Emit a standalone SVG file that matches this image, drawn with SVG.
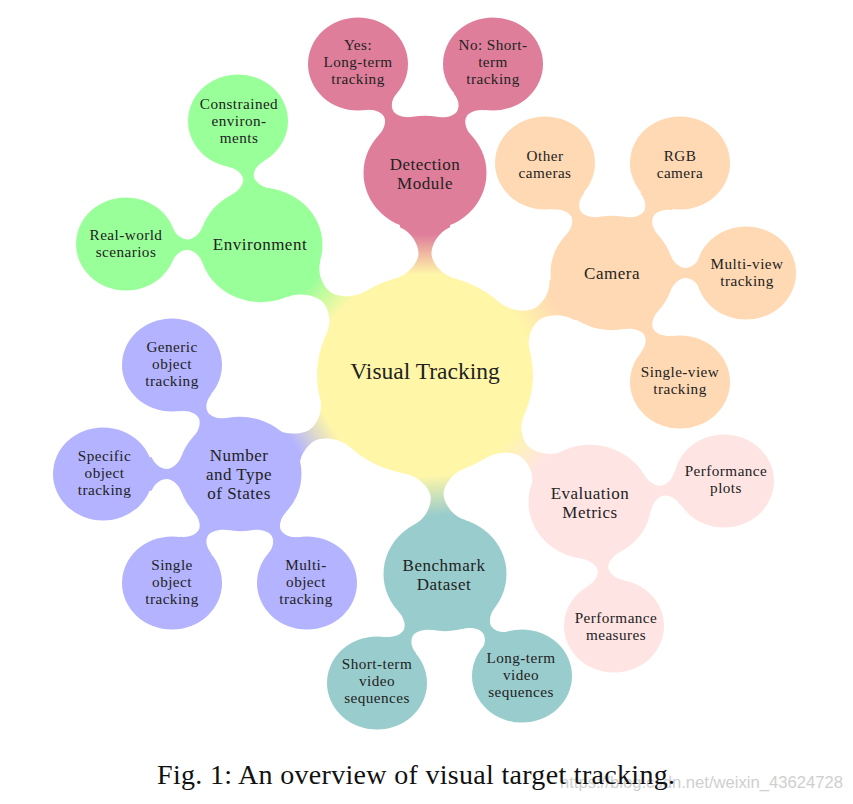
<svg xmlns="http://www.w3.org/2000/svg" width="853" height="804" viewBox="0 0 853 804">
<style>
  text { font-family: "Liberation Serif", "Times New Roman", serif; fill: #222; text-anchor: middle; }
  .t0 { font-size: 23.5px; }
  .t1 { font-size: 17px; letter-spacing: 0.5px; }
  .t2 { font-size: 15.2px; letter-spacing: 0.45px; }
  .cap { font-size: 28px; text-anchor: start; fill: #111; }
  .wm { font-family: "Liberation Sans", Arial, sans-serif; font-size: 16px; fill: #cfcfcf; text-anchor: start; }
  .yel { fill: #FFF6A8; }
  .det { fill: #DF7E9B; }
  .cam { fill: #FFD9B3; }
  .env { fill: #99FF99; }
  .num { fill: #B3B3FF; }
  .ben { fill: #99CCCC; }
  .eva { fill: #FFE4E4; }
</style>
<defs>
  <path id="n1" d="M 80,-30 L 103.75,-30 C 107.9,-15.6 122,-6.5 130.75,-6.5 C 139.5,-6.5 153.5,-13.1 158.8,-25 L 175,-25 L 175,25 L 158.8,25 C 153.5,13.1 139.5,6.5 130.75,6.5 C 122,6.5 107.9,15.6 103.75,30 L 80,30 Z"/>
  <path id="n2" d="M 45,-20 L 58.16,-20 C 61.1,-11.5 68,-5.5 73.25,-5.5 C 78.5,-5.5 85.1,-9.6 88.35,-18 L 100,-18 L 100,18 L 88.35,18 C 85.1,9.6 78.5,5.5 73.25,5.5 C 68,5.5 61.1,11.5 58.16,20 L 45,20 Z"/>
  <linearGradient id="gDet" x1="0" y1="0" x2="1" y2="0"><stop offset="0.3" stop-color="#FFF6A8"/><stop offset="0.75" stop-color="#DF7E9B"/></linearGradient>
  <linearGradient id="gCam" x1="0" y1="0" x2="1" y2="0"><stop offset="0.3" stop-color="#FFF6A8"/><stop offset="0.75" stop-color="#FFD9B3"/></linearGradient>
  <linearGradient id="gEnv" x1="0" y1="0" x2="1" y2="0"><stop offset="0.3" stop-color="#FFF6A8"/><stop offset="0.75" stop-color="#99FF99"/></linearGradient>
  <linearGradient id="gNum" x1="0" y1="0" x2="1" y2="0"><stop offset="0.3" stop-color="#FFF6A8"/><stop offset="0.75" stop-color="#B3B3FF"/></linearGradient>
  <linearGradient id="gBen" x1="0" y1="0" x2="1" y2="0"><stop offset="0.3" stop-color="#FFF6A8"/><stop offset="0.75" stop-color="#99CCCC"/></linearGradient>
  <linearGradient id="gEva" x1="0" y1="0" x2="1" y2="0"><stop offset="0.3" stop-color="#FFF6A8"/><stop offset="0.75" stop-color="#FFE4E4"/></linearGradient>
</defs>
<rect width="853" height="804" fill="#ffffff"/>

<g id="connectors" transform="scale(1,0.93)">
  <use href="#n1" fill="url(#gDet)" transform="translate(425,403.23) rotate(-90)"/>
  <use href="#n1" fill="url(#gCam)" transform="translate(425,403.23) rotate(-30.4)"/>
  <use href="#n1" fill="url(#gEnv)" transform="translate(425,403.23) rotate(-139.55)"/>
  <use href="#n1" fill="url(#gNum)" transform="translate(425,403.23) rotate(150.1)"/>
  <use href="#n1" fill="url(#gBen)" transform="translate(425,403.23) rotate(84.66)"/>
  <use href="#n1" fill="url(#gEva)" transform="translate(425,403.23) rotate(39.6)"/>

  <use href="#n2" class="det" transform="translate(425,186.02) rotate(-119.75)"/>
  <use href="#n2" class="det" transform="translate(425,186.02) rotate(-59.9)"/>

  <use href="#n2" class="cam" transform="translate(612,293.55) rotate(-119.5)"/>
  <use href="#n2" class="cam" transform="translate(612,293.55) rotate(-60.1)"/>
  <use href="#n2" class="cam" transform="translate(612,293.55) rotate(0)"/>
  <use href="#n2" class="cam" transform="translate(612,293.55) rotate(59.9)"/>

  <use href="#n2" class="env" transform="translate(261,263.44) rotate(-99.8)"/>
  <use href="#n2" class="env" transform="translate(261,263.44) rotate(-179.6)"/>

  <use href="#n2" class="num" transform="translate(240,509.68) rotate(-120.1)"/>
  <use href="#n2" class="num" transform="translate(240,509.68) rotate(180)"/>
  <use href="#n2" class="num" transform="translate(240,509.68) rotate(120.1)"/>
  <use href="#n2" class="num" transform="translate(240,509.68) rotate(60.25)"/>

  <use href="#n2" class="ben" transform="translate(445,617.2) rotate(120.1)"/>
  <use href="#n2" class="ben" transform="translate(445,617.2) rotate(54.9)"/>

  <use href="#n2" class="eva" transform="translate(590,539.78) rotate(79.8)"/>
  <use href="#n2" class="eva" transform="translate(590,539.78) rotate(-9.6)"/>
</g>

<g id="visual-tracking">
  <ellipse class="yel" cx="425" cy="375" rx="108" ry="100.4"/>
  <text class="t0" x="425" y="379">Visual Tracking</text>
</g>

<g id="detection-module">
  <ellipse class="det" cx="425" cy="173" rx="61.5" ry="57.2"/>
  <text class="t1" x="425" y="169.75">Detection</text>
  <text class="t1" x="425" y="188.75">Module</text>
</g>
<g id="yes-long-term">
  <ellipse class="det" cx="358" cy="64" rx="50" ry="46.5"/>
  <text class="t2" x="358" y="50">Yes:</text>
  <text class="t2" x="358" y="67">Long-term</text>
  <text class="t2" x="358" y="84">tracking</text>
</g>
<g id="no-short-term">
  <ellipse class="det" cx="493" cy="64" rx="50" ry="46.5"/>
  <text class="t2" x="493" y="50">No: Short-</text>
  <text class="t2" x="493" y="67">term</text>
  <text class="t2" x="493" y="84">tracking</text>
</g>

<g id="camera">
  <ellipse class="cam" cx="612" cy="273" rx="61.5" ry="57.2"/>
  <text class="t1" x="612" y="279">Camera</text>
</g>
<g id="other-cameras">
  <ellipse class="cam" cx="545" cy="163" rx="50" ry="46.5"/>
  <text class="t2" x="545" y="161.25">Other</text>
  <text class="t2" x="545" y="178.25">cameras</text>
</g>
<g id="rgb-camera">
  <ellipse class="cam" cx="680" cy="163" rx="50" ry="46.5"/>
  <text class="t2" x="680" y="161.25">RGB</text>
  <text class="t2" x="680" y="178.25">camera</text>
</g>
<g id="multi-view">
  <ellipse class="cam" cx="746" cy="273" rx="50" ry="46.5"/>
  <text class="t2" x="747" y="268.75">Multi-view</text>
  <text class="t2" x="747" y="285.75">tracking</text>
</g>
<g id="single-view">
  <ellipse class="cam" cx="680" cy="382" rx="50" ry="46.5"/>
  <text class="t2" x="680" y="376.75">Single-view</text>
  <text class="t2" x="680" y="393.75">tracking</text>
</g>

<g id="environment">
  <ellipse class="env" cx="261" cy="245" rx="61.5" ry="57.2"/>
  <text class="t1" x="260" y="250">Environment</text>
</g>
<g id="constrained">
  <ellipse class="env" cx="238" cy="121" rx="50" ry="46.5"/>
  <text class="t2" x="239" y="109">Constrained</text>
  <text class="t2" x="239" y="126">environ-</text>
  <text class="t2" x="239" y="143">ments</text>
</g>
<g id="real-world">
  <ellipse class="env" cx="126" cy="244" rx="50" ry="46.5"/>
  <text class="t2" x="126" y="240.25">Real-world</text>
  <text class="t2" x="126" y="257.25">scenarios</text>
</g>

<g id="number-type-states">
  <ellipse class="num" cx="240" cy="474" rx="61.5" ry="57.2"/>
  <text class="t1" x="239" y="461">Number</text>
  <text class="t1" x="239" y="480">and Type</text>
  <text class="t1" x="239" y="499">of States</text>
</g>
<g id="generic-object">
  <ellipse class="num" cx="172" cy="365" rx="50" ry="46.5"/>
  <text class="t2" x="172" y="352">Generic</text>
  <text class="t2" x="172" y="369">object</text>
  <text class="t2" x="172" y="386">tracking</text>
</g>
<g id="specific-object">
  <ellipse class="num" cx="103" cy="474" rx="50" ry="46.5"/>
  <text class="t2" x="104.5" y="460.5">Specific</text>
  <text class="t2" x="104.5" y="477.5">object</text>
  <text class="t2" x="104.5" y="494.5">tracking</text>
</g>
<g id="single-object">
  <ellipse class="num" cx="172" cy="583" rx="50" ry="46.5"/>
  <text class="t2" x="172" y="569.5">Single</text>
  <text class="t2" x="172" y="586.5">object</text>
  <text class="t2" x="172" y="603.5">tracking</text>
</g>
<g id="multi-object">
  <ellipse class="num" cx="307" cy="583" rx="50" ry="46.5"/>
  <text class="t2" x="306" y="569.5">Multi-</text>
  <text class="t2" x="306" y="586.5">object</text>
  <text class="t2" x="306" y="603.5">tracking</text>
</g>

<g id="benchmark-dataset">
  <ellipse class="ben" cx="445" cy="574" rx="61.5" ry="57.2"/>
  <text class="t1" x="444" y="570.75">Benchmark</text>
  <text class="t1" x="444" y="589.75">Dataset</text>
</g>
<g id="short-term-video">
  <ellipse class="ben" cx="377" cy="683" rx="50" ry="46.5"/>
  <text class="t2" x="377" y="669">Short-term</text>
  <text class="t2" x="377" y="686">video</text>
  <text class="t2" x="377" y="703">sequences</text>
</g>
<g id="long-term-video">
  <ellipse class="ben" cx="522" cy="676" rx="50" ry="46.5"/>
  <text class="t2" x="521" y="662.5">Long-term</text>
  <text class="t2" x="521" y="679.5">video</text>
  <text class="t2" x="521" y="696.5">sequences</text>
</g>

<g id="evaluation-metrics">
  <ellipse class="eva" cx="590" cy="502" rx="61.5" ry="57.2"/>
  <text class="t1" x="590" y="499">Evaluation</text>
  <text class="t1" x="590" y="518">Metrics</text>
</g>
<g id="performance-measures">
  <ellipse class="eva" cx="614" cy="626" rx="50" ry="46.5"/>
  <text class="t2" x="616" y="623">Performance</text>
  <text class="t2" x="616" y="640">measures</text>
</g>
<g id="performance-plots">
  <ellipse class="eva" cx="724" cy="481" rx="50" ry="46.5"/>
  <text class="t2" x="726" y="476.25">Performance</text>
  <text class="t2" x="726" y="493.25">plots</text>
</g>

<text class="wm" x="560" y="788" textLength="283" lengthAdjust="spacingAndGlyphs">https://blog.csdn.net/weixin_43624728</text>
<text class="cap" x="157" y="784" textLength="518" lengthAdjust="spacing">Fig. 1: An overview of visual target tracking.</text>
</svg>
